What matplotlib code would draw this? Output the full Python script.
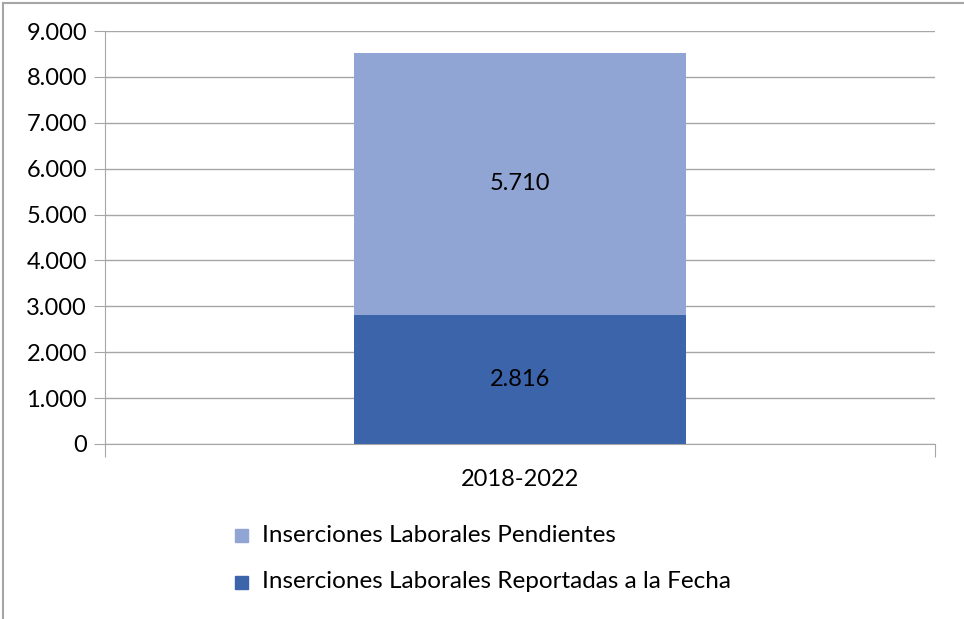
import matplotlib
matplotlib.use("Agg")
import matplotlib.pyplot as plt
from matplotlib.ticker import FuncFormatter
from matplotlib.patches import Rectangle
from matplotlib.lines import Line2D

categories = ["2018-2022"]
reportadas = [2816]
pendientes = [5710]
series_names = ["Inserciones Laborales Reportadas a la Fecha", "Inserciones Laborales Pendientes"]
colors = ["#3c64ab", "#91a5d5"]

plt.rcParams['font.family'] = ['Lato', 'DejaVu Sans']

fig = plt.figure(figsize=(9.64, 6.19), dpi=100)
ax = fig.add_axes([105/964, 1-444/619, (935-105)/964, (444-31)/619])

x = list(range(len(categories)))
ax.bar(x, reportadas, width=0.4, color=colors[0], label=series_names[0])
ax.bar(x, pendientes, width=0.4, bottom=reportadas, color=colors[1], label=series_names[1])

fmt = lambda v: f"{int(v):,}".replace(",", ".")
for i in x:
    ax.text(i, reportadas[i]/2, fmt(reportadas[i]), ha='center', va='center', fontsize=17, color='black')
    ax.text(i, reportadas[i] + pendientes[i]/2, fmt(pendientes[i]), ha='center', va='center', fontsize=17, color='black')

ax.set_xlim(-0.5, 0.5)
ax.set_ylim(0, 9000)
ax.set_yticks(range(0, 9001, 1000))
ax.yaxis.set_major_formatter(FuncFormatter(lambda v, p: fmt(v)))
ax.grid(axis='y', color='#a6a6a6', linewidth=1)
ax.set_axisbelow(True)
for s in ['top', 'right']:
    ax.spines[s].set_visible(False)
for s in ['left', 'bottom']:
    ax.spines[s].set_color('#a6a6a6')
ax.tick_params(axis='y', length=8, color='#a6a6a6', labelsize=17, pad=5)
ax.set_xticks([-0.5, 0.5])
ax.set_xticklabels([])
ax.tick_params(axis='x', length=9, color='#a6a6a6')
for i, c in zip(x, categories):
    ax.text(i, -0.06, c, transform=ax.get_xaxis_transform(), ha='center', va='top', fontsize=17)

# legend
fig.text(262/964, 1-535/619, series_names[1], ha='left', va='center', fontsize=17.5)
fig.text(262/964, 1-582/619, series_names[0], ha='left', va='center', fontsize=17.5)
fig.patches.append(Rectangle((235/964, 1-542/619), 13/964, 13/619, transform=fig.transFigure, color=colors[1]))
fig.patches.append(Rectangle((235/964, 1-589/619), 13/964, 13/619, transform=fig.transFigure, color=colors[0]))

# outer frame
fig.lines.append(Line2D([3/964, 3/964], [0, 1-3/619], transform=fig.transFigure, color='#a6a6a6', linewidth=1.5))
fig.lines.append(Line2D([3/964, 1], [1-3/619, 1-3/619], transform=fig.transFigure, color='#a6a6a6', linewidth=1.5))

fig.savefig("out.png", dpi=100)
